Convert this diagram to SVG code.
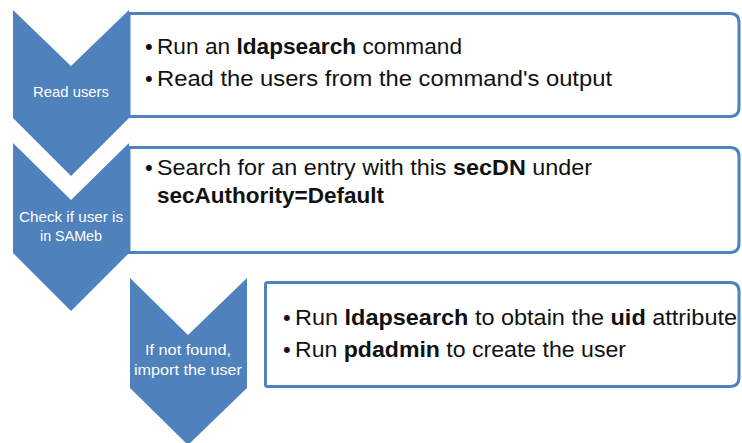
<svg xmlns="http://www.w3.org/2000/svg" width="742" height="443" viewBox="0 0 742 443">
  <style>
    .chev { fill: #4f81bd; }
    .box { fill: #ffffff; stroke: #4f81bd; stroke-width: 3; }
    .lbl { font-family: "Liberation Sans", Arial, sans-serif; font-size: 15px; fill: #ffffff; text-anchor: middle; }
    .txt { font-family: "Liberation Sans", Arial, sans-serif; font-size: 22px; fill: #111111; }
    .b { font-weight: bold; }
  </style>
  <rect width="742" height="443" fill="#ffffff"/>

  <!-- step 1 -->
  <g id="step1">
    <path class="chev" d="M13,10 L71,66 L129,10 L129,118 L71,176 L13,118 Z"/>
    <text class="lbl" x="71" y="97" textLength="76" lengthAdjust="spacingAndGlyphs">Read users</text>
  </g>
  <g id="detail1">
    <path class="box" d="M129,13.5 H730 Q739,13.5 739,22.5 V107 Q739,116.5 730,116.5 H129 Z"/>
    <text class="txt" x="145" y="54">•</text>
    <text class="txt" x="157" y="54" textLength="305" lengthAdjust="spacingAndGlyphs">Run an <tspan class="b">ldapsearch</tspan> command</text>
    <text class="txt" x="145" y="86">•</text>
    <text class="txt" x="157" y="86" textLength="455" lengthAdjust="spacingAndGlyphs">Read the users from the command's output</text>
  </g>

  <!-- step 2 -->
  <g id="step2">
    <path class="chev" d="M13,143 L71,200 L129,143 L129,253 L71,311 L13,253 Z"/>
    <text class="lbl" x="71" y="222" textLength="104" lengthAdjust="spacingAndGlyphs">Check if user is</text>
    <text class="lbl" x="71" y="241" textLength="62" lengthAdjust="spacingAndGlyphs">in SAMeb</text>
  </g>
  <g id="detail2">
    <path class="box" d="M129,147.5 H730 Q739,147.5 739,156.5 V243 Q739,252.5 730,252.5 H129 Z"/>
    <text class="txt" x="145" y="175">•</text>
    <text class="txt" x="157" y="175" textLength="435" lengthAdjust="spacingAndGlyphs">Search for an entry with this <tspan class="b">secDN</tspan> under</text>
    <text class="txt b" x="157" y="203" textLength="227" lengthAdjust="spacingAndGlyphs">secAuthority=Default</text>
  </g>

  <!-- step 3 -->
  <g id="step3">
    <path class="chev" d="M130,278 L188,335 L247,278 L247,388 L188,445 L130,388 Z"/>
    <text class="lbl" x="188" y="355" textLength="86" lengthAdjust="spacingAndGlyphs">If not found,</text>
    <text class="lbl" x="188" y="375" textLength="108" lengthAdjust="spacingAndGlyphs">import the user</text>
  </g>
  <g id="detail3">
    <path class="box" d="M267.5,282.5 H730 Q739,282.5 739,291.5 V377 Q739,386.5 730,386.5 H267.5 Q265.5,386.5 265.5,384.5 V284.5 Q265.5,282.5 267.5,282.5 Z"/>
    <text class="txt" x="283" y="325">•</text>
    <text class="txt" x="295" y="325" textLength="442" lengthAdjust="spacingAndGlyphs">Run <tspan class="b">ldapsearch</tspan> to obtain the <tspan class="b">uid</tspan> attribute</text>
    <text class="txt" x="283" y="357">•</text>
    <text class="txt" x="295" y="357" textLength="331" lengthAdjust="spacingAndGlyphs">Run <tspan class="b">pdadmin</tspan> to create the user</text>
  </g>

  <g id="connectors"></g>
</svg>
